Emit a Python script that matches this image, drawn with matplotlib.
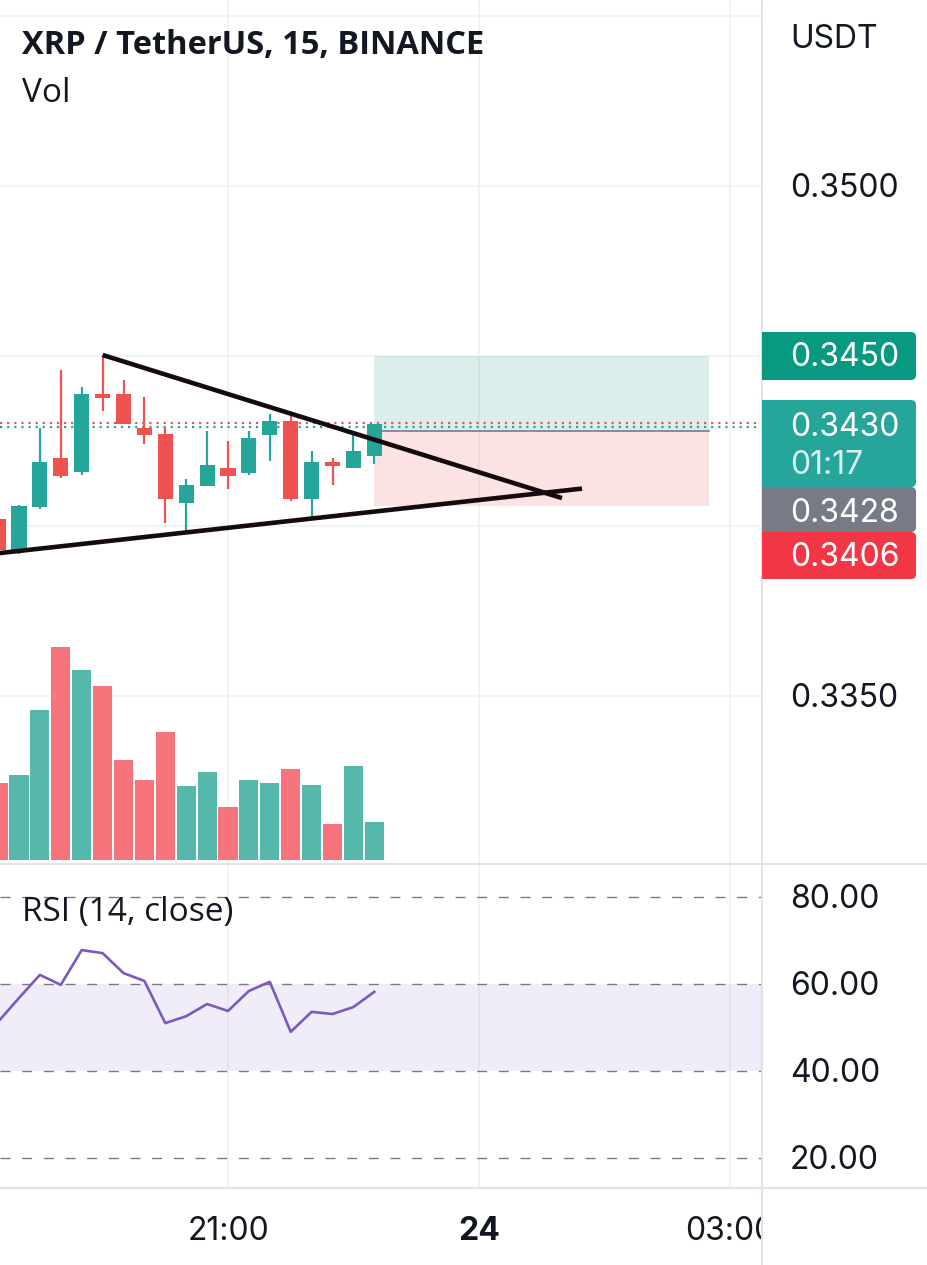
import matplotlib
matplotlib.use("Agg")
import matplotlib.pyplot as plt
from matplotlib.patches import FancyBboxPatch, Rectangle
from matplotlib.lines import Line2D
from matplotlib.transforms import IdentityTransform

# ---------------- data ----------------
times = ["18:15", "18:30", "18:45", "19:00", "19:15", "19:30", "19:45", "20:00",
         "20:15", "20:30", "20:45", "21:00", "21:15", "21:30", "21:45", "22:00",
         "22:15", "22:30", "22:45"]
opens = [0.34021, 0.33924, 0.34056, 0.34200, 0.34159, 0.34388, 0.34388, 0.34288,
         0.34271, 0.34068, 0.34118, 0.34171, 0.34156, 0.34268, 0.34309, 0.34079,
         0.34188, 0.34171, 0.34206]
highs = [0.34028, 0.34062, 0.34288, 0.34459, 0.34409, 0.34503, 0.34429, 0.34379,
         0.34288, 0.34138, 0.34279, 0.34250, 0.34279, 0.34329, 0.34329, 0.34221,
         0.34200, 0.34268, 0.34300]
lows = [0.33915, 0.33918, 0.34050, 0.34141, 0.34150, 0.34338, 0.34300, 0.34241,
        0.34009, 0.33979, 0.34118, 0.34109, 0.34150, 0.34191, 0.34074, 0.34024,
        0.34121, 0.34171, 0.34182]
closes = [0.33929, 0.34059, 0.34188, 0.34147, 0.34388, 0.34376, 0.34300, 0.34268,
          0.34079, 0.34121, 0.34179, 0.34147, 0.34259, 0.34309, 0.34079, 0.34188,
          0.34176, 0.34221, 0.34300]
volumes_k = [77, 85, 150, 213, 190, 174, 100, 80, 128, 74, 88, 53, 80, 77, 91, 75,
             36, 94, 38]
rsi = [51.3, 56.8, 62.1, 59.8, 67.8, 67.1, 62.5, 60.7, 51.0, 52.6, 55.4, 53.8,
       58.4, 60.5, 49.0, 53.6, 53.1, 54.7, 58.2]

# drawings (bar index, price)
upper_trend = [(5.0, 0.34503), (26.98, 0.34082)]
lower_trend = [(-1.0, 0.33913), (27.94, 0.34110)]
position = {"start": 18, "end": 34, "entry": 0.3428, "target": 0.3450, "stop": 0.3406}
last_price_lines = [0.34303, 0.34290]

price_ticks = [0.3350, 0.3400, 0.3450, 0.3500, 0.3550]
price_tick_labels = {0.3500: "0.3500", 0.3350: "0.3350"}
rsi_levels = [80, 60, 40, 20]
time_ticks = [(11, "21:00", "normal"), (23, "24", "bold"), (35, "03:00", "normal")]

UP = "#26a69a"
DOWN = "#ef5350"
VUP = "#55b8ab"
VDOWN = "#f7747c"
GRID = "#eff1f4"
SEP = "#e0e3eb"
TXT = "#131722"

W, H = 927, 1265
fig = plt.figure(figsize=(W / 100, H / 100), dpi=100)
fig.patch.set_facecolor("white")


def rect(x0, y0, x1, y1):
    return [x0 / W, 1 - y1 / H, (x1 - x0) / W, (y1 - y0) / H]


PLOT_R = 762
px_per_bar = 20.9
x_left = 11 - 228 / px_per_bar
x_right = 11 + (PLOT_R - 228) / px_per_bar


def price_at(y):
    return 0.35 - (y - 186) / 34000.0


n = len(opens)
idx = list(range(n))

# ---------- volume axes (behind) ----------
ax_vol = fig.add_axes(rect(0, 0, PLOT_R, 864))
ax_vol.set_xlim(x_left, x_right)
ax_vol.set_ylim(-4, 860)
vcols = [VUP if c >= o else VDOWN for o, c in zip(opens, closes)]
ax_vol.bar(idx, volumes_k, width=0.91, color=vcols, zorder=2)
ax_vol.axis("off")

# ---------- main price axes ----------
ax = fig.add_axes(rect(0, 0, PLOT_R, 864), sharex=ax_vol)
ax.set_facecolor("none")
ax.set_ylim(price_at(864), price_at(0))
ax.set_xlim(x_left, x_right)
for s in ax.spines.values():
    s.set_visible(False)
ax.set_xticks([])
ax.set_yticks([])

# grid drawn on volume axes to stay behind bars
for p in price_ticks:
    ax_vol.axhline((860 - (186 + (0.35 - p) * 34000)), color=GRID, lw=1.2, zorder=0)
for t, _, _ in time_ticks:
    ax_vol.axvline(t, color=GRID, lw=1.2, zorder=0)

# position tool
ax.add_patch(Rectangle((position["start"], position["entry"]),
                       position["end"] - position["start"],
                       position["target"] - position["entry"],
                       facecolor="#089981", alpha=0.15, lw=0, zorder=1))
ax.add_patch(Rectangle((position["start"], position["stop"]),
                       position["end"] - position["start"],
                       position["entry"] - position["stop"],
                       facecolor="#f23645", alpha=0.14, lw=0, zorder=1))
ax.plot([position["start"], position["end"]], [position["entry"]] * 2,
        color="#787b86", lw=1.2, zorder=2)

# last price dotted lines
ax.axhline(last_price_lines[0], color="#ef5350", lw=1.6, ls=(0, (1, 2.2)), zorder=2)
ax.axhline(last_price_lines[1], color=UP, lw=1.6, ls=(0, (1, 2.2)), zorder=2)

# candles
for i, (o, h, l, c) in enumerate(zip(opens, highs, lows, closes)):
    col = UP if c >= o else DOWN
    ax.vlines(i, l, h, color=col, lw=1.6, zorder=3)
    bot = min(o, c)
    hgt = max(abs(c - o), 0.00003)
    ax.bar(i, hgt, bottom=bot, width=0.72, color=col, zorder=4)

# trend lines
for line in (upper_trend, lower_trend):
    xs = [pt[0] for pt in line]
    ys = [pt[1] for pt in line]
    ax.plot(xs, ys, color="#160b0c", lw=3.3, solid_capstyle="butt", zorder=5)

HF = ["Open Sans", "DejaVu Sans"]
# header texts
fig.text(22 / W, 1 - 46 / H, "XRP / TetherUS, 15, BINANCE", fontsize=23.5,
         fontweight="bold", family=HF, color=TXT, va="center", ha="left")
fig.text(22 / W, 1 - 94 / H, "Vol", fontsize=24, family=HF, color=TXT,
         va="center", ha="left")

# ---------- RSI axes ----------
ax_r = fig.add_axes(rect(0, 864, PLOT_R, 1188), sharex=ax_vol)
ax_r.set_xlim(x_left, x_right)
r_top = 60 + (984 - 864) / 4.35
r_bot = 60 - (1188 - 984) / 4.35
ax_r.set_ylim(r_bot, r_top)
ax_r.set_facecolor("none")
for s in ax_r.spines.values():
    s.set_visible(False)
ax_r.set_xticks([])
ax_r.set_yticks([])
for t, _, _ in time_ticks:
    ax_r.axvline(t, color=GRID, lw=1.2, zorder=0)
ax_r.axhspan(40, 60, color="#7e57c2", alpha=0.1, lw=0, zorder=1)
for lv in rsi_levels:
    ax_r.axhline(lv, color="#787b86", lw=1.0, ls=(0, (7.2, 8.4)), zorder=2)
ax_r.plot(idx, rsi, color="#7e57c2", lw=1.9, zorder=3)
fig.text(22 / W, 1 - 912 / H, "RSI (14, close)", fontsize=24, family=HF,
         color=TXT, va="center", ha="left")

# ---------- time axis ----------
AXF = ["Inter", "DejaVu Sans"]
ax_t = fig.add_axes(rect(0, 1188, PLOT_R, H), sharex=ax_vol)
ax_t.set_xlim(x_left, x_right)
ax_t.set_ylim(0, H - 1188)
ax_t.axis("off")
for t, lab, wt in time_ticks:
    ax_t.text(t, (H - 1188) - (1232 - 1188), lab, fontsize=23, fontweight=wt,
              family=AXF, color=TXT, ha="center", va="center", clip_on=True)

# ---------- price scale texts ----------
FS = 23
DY = 2.5 / 34000  # small baseline correction in price units
fig.text(790 / W, 1 - 39 / H, "USDT", fontsize=FS, family=AXF, color=TXT,
         va="center", ha="left")
for p, lab in price_tick_labels.items():
    ax.text(790 / PLOT_R, p - DY, lab, transform=ax.get_yaxis_transform(),
            fontsize=FS, family=AXF, color=TXT, va="center", ha="left")
for lv in rsi_levels:
    ax_r.text(790 / PLOT_R, lv - 2.5 / 4.35, f"{lv:.2f}",
              transform=ax_r.get_yaxis_transform(), fontsize=FS, family=AXF,
              color=TXT, va="center", ha="left")


# label boxes (pixel layout)
def label_box(y0, y1, color):
    box = FancyBboxPatch((762, H - y1), 916 - 762, y1 - y0,
                         boxstyle="round,pad=0,rounding_size=5",
                         transform=IdentityTransform(), facecolor=color,
                         edgecolor="none", zorder=5)
    fig.add_artist(box)
    sq = Rectangle((762, H - y1), 12, y1 - y0, transform=IdentityTransform(),
                   facecolor=color, edgecolor="none", zorder=5)
    fig.add_artist(sq)


label_box(332, 380, "#089981")
label_box(400, 487, "#26a69a")
label_box(487, 532, "#787b86")
label_box(532, 579, "#f23645")
for y, txt, col in [(358, f"{position['target']:.4f}", "white"),
                    (427, f"{0.3430:.4f}", "white"),
                    (465, "01:17", "#d8f1ee"),
                    (513, f"{position['entry']:.4f}", "white"),
                    (558, f"{position['stop']:.4f}", "white")]:
    fig.text(790 / W, 1 - y / H, txt, fontsize=FS, family=AXF, color=col,
             va="center", ha="left", zorder=6)

# separators
fig.add_artist(Line2D([PLOT_R / W] * 2, [0, 1], color=SEP, lw=1.5))
fig.add_artist(Line2D([0, 1], [1 - 864 / H] * 2, color=SEP, lw=1.5))
fig.add_artist(Line2D([0, 1], [1 - 1188 / H] * 2, color=SEP, lw=1.5))

fig.savefig("out.png", dpi=100, facecolor="white")
